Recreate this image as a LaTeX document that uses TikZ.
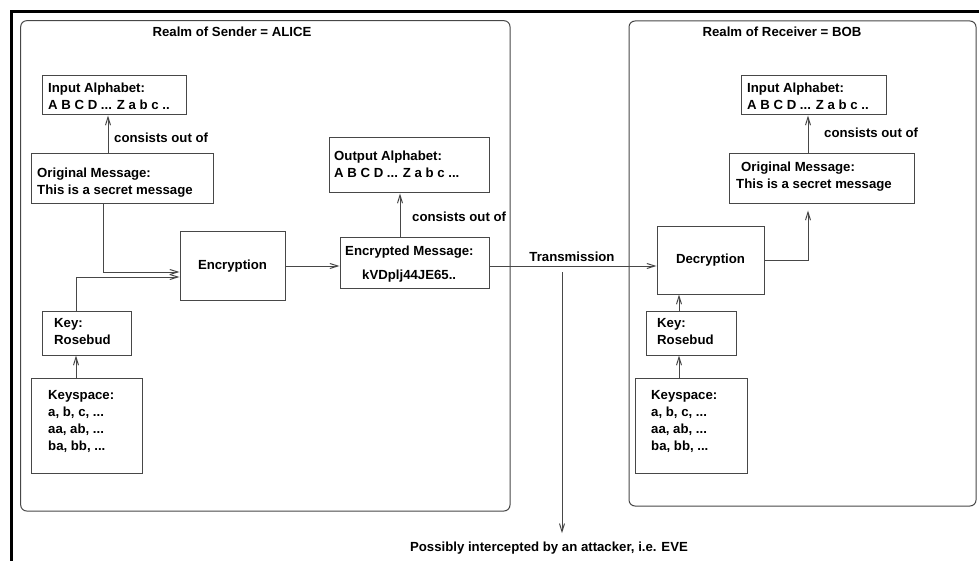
\documentclass[tikz,border=0pt]{standalone}
\usepackage{fontspec}
\setmainfont{Liberation Sans}
\usetikzlibrary{arrows.meta}

\begin{document}
\begin{tikzpicture}[x=1pt, y=-1pt,
  lbl/.style={font=\fontsize{13.2}{16.7}\selectfont\bfseries, inner sep=0pt, align=left},
  txt/.style={lbl, anchor=north west},
  box/.style={draw=black!72, line width=1pt, rectangle, inner sep=0pt},
  realm/.style={draw=black!72, line width=1pt, rounded corners=6pt},
  arr/.style={draw=black!72, line width=1pt, -{Straight Barb[length=8pt,width=5pt]}},
  wire/.style={draw=black!72, line width=1pt}]

\useasboundingbox (0,0) rectangle (979,561);

% outer frame (left and top edges)
\draw[line width=3.3pt, black] (11.8,561) -- (11.8,11.5) -- (979,11.5);

% the two realms
\draw[realm] (20.7,20.7) rectangle (510,511);
\draw[realm] (629,21) rectangle (976,506);
\node[lbl, anchor=base] (atitle) at (232,37) {Realm of Sender = ALICE};
\node[lbl, anchor=base] (btitle) at (782,37) {Realm of Receiver = BOB};

% ---------- sender side ----------
\node[box, minimum width=144pt, minimum height=39pt] (ainp) at (114,95.5) {};
\node[txt] (ainpt) at (48,83) {Input Alphabet:\\A B C D ... Z a b c ..};

\node[box, minimum width=182pt, minimum height=50pt] (aorig) at (122,179) {};
\node[txt] (aorigt) at (37,167.7) {Original Message:\\This is a secret message};

\node[box, minimum width=160pt, minimum height=55pt] (aout) at (409,165.5) {};
\node[txt] (aoutt) at (334,150.7) {Output Alphabet:\\A B C D ... Z a b c ...};

\node[box, lbl, draw=black!72, minimum width=105pt, minimum height=68pt] (aenc) at (232.5,266) {Encryption};

\node[box, minimum width=149pt, minimum height=50pt] (aencm) at (414.5,263) {};
\node[txt] (aencmt) at (345,245.7) {Encrypted Message:};
\node[txt] (aencmc) at (362,269.3) {kVDplj44JE65..};

\node[box, minimum width=89pt, minimum height=44pt] (akey) at (86.5,333) {};
\node[txt] (akeyt) at (54,318.3) {Key:\\Rosebud};

\node[box, minimum width=111pt, minimum height=95pt] (aks) at (86.5,425.5) {};
\node[txt] (akst) at (48,390.7) {Keyspace:\\a, b, c, ...\\aa, ab, ...\\ba, bb, ...};

\node[lbl, anchor=base west] (acons1) at (114,142.5) {consists out of};
\node[lbl, anchor=base west] (acons2) at (412,222) {consists out of};

% ---------- receiver side ----------
\node[box, minimum width=145pt, minimum height=39pt] (binp) at (813.5,95.5) {};
\node[txt] (binpt) at (747,83) {Input Alphabet:\\A B C D ... Z a b c ..};

\node[box, minimum width=185pt, minimum height=50pt] (borig) at (821.5,179) {};
\node[txt] (borigt) at (741,161.7) {Original Message:};
\node[txt] (borigc) at (736,178.7) {This is a secret message};

\node[box, lbl, draw=black!72, minimum width=107pt, minimum height=67pt] (bdec) at (710.5,260.5) {Decryption};

\node[box, minimum width=90pt, minimum height=44pt] (bkey) at (691,333) {};
\node[txt] (bkeyt) at (657,318.3) {Key:\\Rosebud};

\node[box, minimum width=112pt, minimum height=95pt] (bks) at (691,425.5) {};
\node[txt] (bkst) at (651,390.7) {Keyspace:\\a, b, c, ...\\aa, ab, ...\\ba, bb, ...};

\node[lbl, anchor=base west] (bcons) at (824,138) {consists out of};

% ---------- channel ----------
\node[lbl, anchor=base] (trans) at (572,261.5) {Transmission};
\node[lbl, anchor=base] (eve) at (549,551) {Possibly intercepted by an attacker, i.e. EVE};

% vertical tracks of the connectors
\coordinate (xa) at (108,0);
\coordinate (xb) at (103,0);
\coordinate (xc) at (76,0);
\coordinate (xd) at (400,0);
\coordinate (xe) at (808,0);
\coordinate (xf) at (679,0);
\coordinate (evs) at (562,272);

% ---------- connectors ----------
\draw[arr] (aorig.north -| xa) -- (ainp.south -| xa);
\draw[arr] (aorig.south -| xb) |- ([yshift=-6pt]aenc.west);
\draw[arr] (akey.north -| xc) |- ([yshift=-11pt]aenc.west);
\draw[arr] (aks.north -| xc) -- (akey.south -| xc);
\draw[arr] (aenc.east) -- (aenc.east -| aencm.west);
\draw[arr] (aencm.north -| xd) -- (aout.south -| xd);
\draw[arr] (aenc.east -| aencm.east) -- (aenc.east -| bdec.west);
\draw[arr, shorten >=8pt] (evs) -- (eve.north -| evs);

\draw[arr, shorten >=6pt] (bdec.east) -| (borig.south -| xe);
\draw[arr] (borig.north -| xe) -- (binp.south -| xe);
\draw[arr] (bkey.north -| xf) -- (bdec.south -| xf);
\draw[arr] (bks.north -| xf) -- (bkey.south -| xf);
\end{tikzpicture}
\end{document}
